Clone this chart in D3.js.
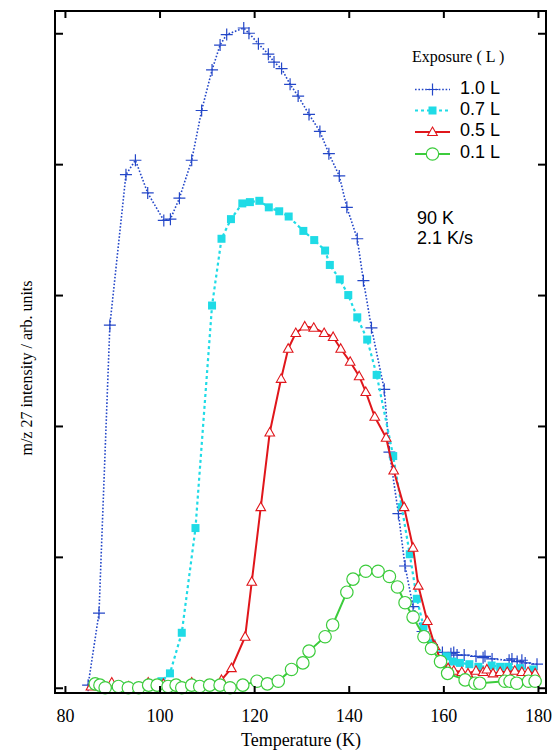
<!DOCTYPE html>
<html><head><meta charset="utf-8">
<script src="https://cdn.jsdelivr.net/npm/d3@7"></script>
<style>html,body{margin:0;padding:0;background:#fff;}svg{display:block;}</style>
</head><body>
<svg id="chart" width="553" height="753"></svg>
<script>
// ---- data ----
const xTicks = [80, 100, 120, 140, 160, 180];
const yTicks = [0, 1, 2, 3, 4, 5];
const seriesNames = ["1.0 L", "0.7 L", "0.5 L", "0.1 L"];

const tempA = [84.9,87.2,89.5,92.9,94.9,97.5,100.9,102.3,104.2,106.8,108.9,111.1,112.8,114.2,117.8,118.9,120.9,123.0,124.2,125.8,127.6,129.3,131.6,133.9,135.8,138.0,139.6,141.8,143.1,144.8,147.5,148.6,150.5,151.9,153.6,155.6,157.6,159.8,161.6,162.2,162.9,164.4,166.9,168.4,168.8,170.3,173.9,174.5,175.6,176.6,177.3,179.8];
const valA  = [0.02,0.57,2.77,3.92,4.03,3.78,3.57,3.58,3.74,4.03,4.41,4.72,4.91,4.99,5.04,5.00,4.92,4.84,4.78,4.73,4.61,4.52,4.38,4.25,4.08,3.91,3.67,3.43,3.11,2.75,2.28,1.80,1.33,0.93,0.62,0.43,0.33,0.27,0.26,0.27,0.25,0.25,0.24,0.23,0.24,0.22,0.21,0.22,0.20,0.21,0.19,0.18];

const tempB = [86.0,88.0,90.5,93.0,95.5,98.0,100.4,102.2,104.7,107.6,111.1,113.1,115.1,117.5,119.1,121.1,123.1,125.3,127.3,130.4,132.7,135.0,136.0,138.1,139.9,141.8,143.9,145.9,149.4,151.2,152.9,154.4,155.8,157.5,160.7,162.0,163.5,165.5,167.4,170.2,172.0,173.7,176.2,179.0];
const valB  = [0.02,0.01,0.02,0.01,0.01,0.02,0.05,0.11,0.42,1.22,2.92,3.43,3.58,3.70,3.71,3.72,3.67,3.64,3.60,3.49,3.42,3.34,3.23,3.12,3.00,2.83,2.66,2.39,1.77,1.38,1.02,0.68,0.47,0.34,0.24,0.20,0.19,0.18,0.16,0.17,0.16,0.16,0.15,0.14];

const tempC = [85.5,89.9,93.5,97.6,100.8,103.5,106.8,109.9,113.1,115.2,118.1,119.5,121.4,123.3,125.7,127.2,128.8,130.7,132.6,134.8,136.7,138.3,140.3,142.2,143.6,145.5,147.9,149.5,151.7,153.6,154.7,156.6,158.2,159.6,161.0,162.2,163.9,165.2,166.9,168.4,169.2,170.5,172.0,173.5,175.1,176.6,177.9,179.4];
const valC  = [0.01,0.04,0.01,0.04,0.03,0.01,0.04,0.02,0.06,0.15,0.39,0.81,1.38,1.95,2.36,2.59,2.71,2.76,2.75,2.71,2.68,2.59,2.49,2.38,2.26,2.07,1.91,1.66,1.38,1.07,0.78,0.51,0.32,0.20,0.15,0.13,0.12,0.11,0.13,0.12,0.14,0.11,0.12,0.12,0.13,0.12,0.12,0.11];

const tempD = [86.4,87.4,88.5,91.3,93.4,95.6,97.7,99.5,101.8,103.5,104.7,106.8,108.5,110.6,112.8,114.9,117.6,120.6,122.8,125.1,127.9,130.3,131.6,135.0,136.6,139.6,140.9,143.6,146.2,148.6,150.3,151.9,153.6,155.9,157.5,159.4,160.9,164.6,166.7,167.7,173.0,174.1,175.5,178.0,179.4];
const valD  = [0.03,0.02,0.00,0.01,0.00,0.00,0.02,0.02,0.01,0.02,0.00,0.02,0.01,0.02,0.02,0.00,0.02,0.05,0.03,0.05,0.14,0.19,0.28,0.39,0.48,0.73,0.83,0.89,0.89,0.85,0.77,0.65,0.54,0.39,0.30,0.20,0.11,0.06,0.035,0.035,0.05,0.05,0.035,0.05,0.05];

const legendTitle = "Exposure ( L )";
const noteLines = ["90 K", "2.1 K/s"];
const xTitle = "Temperature (K)";
const yTitle = "m/z 27 intensity / arb. units";

// ---- drawing ----
const svg = d3.select("#chart");
const L = 55, R = 546, T = 11, B = 693;
const x = d3.scaleLinear().domain([77.9, 181.7]).range([L, R]);
const y = d3.scaleLinear().domain([-0.04, 5.17]).range([B, T]);

const serif = "'Liberation Serif','Times New Roman',serif";
const sans = "'Liberation Sans',Arial,sans-serif";

const styles = [
  {color:"#2447c8", dash:"1.6,1.8", width:1.6, marker:"plus"},
  {color:"#1fdbe6", dash:"3,3", width:2.2, marker:"square"},
  {color:"#e0161b", dash:null, width:2, marker:"triangle"},
  {color:"#3ccc3c", dash:null, width:2, marker:"circle"}
];
const data = [
  tempA.map((t,i)=>({t, v:valA[i]})),
  tempB.map((t,i)=>({t, v:valB[i]})),
  tempC.map((t,i)=>({t, v:valC[i]})),
  tempD.map((t,i)=>({t, v:valD[i]}))
];

function drawMarker(g, kind, color, cx, cy) {
  if (kind === "plus") {
    g.append("path").attr("d", `M${cx-6},${cy}H${cx+6}M${cx},${cy-6}V${cy+6}`)
      .attr("stroke", color).attr("stroke-width", 1.2).attr("fill", "none");
  } else if (kind === "square") {
    g.append("rect").attr("x", cx-4).attr("y", cy-4).attr("width", 8).attr("height", 8)
      .attr("fill", color);
  } else if (kind === "triangle") {
    g.append("path").attr("d", `M${cx},${cy-5}L${cx+4.8},${cy+3.5}L${cx-4.8},${cy+3.5}Z`)
      .attr("fill", "#fff").attr("stroke", color).attr("stroke-width", 1.1);
  } else {
    g.append("circle").attr("cx", cx).attr("cy", cy).attr("r", 6.2)
      .attr("fill", "#fff").attr("stroke", color).attr("stroke-width", 1.2);
  }
}

const line = d3.line().x(d => x(d.t)).y(d => y(d.v));
const plot = svg.append("g");
data.forEach((ds, i) => {
  const s = styles[i];
  const g = plot.append("g");
  g.append("path").datum(ds).attr("d", line).attr("fill", "none")
    .attr("stroke", s.color).attr("stroke-width", s.width)
    .attr("stroke-dasharray", s.dash);
  ds.forEach(d => drawMarker(g, s.marker, s.color, x(d.t), y(d.v)));
});

// axes (inward ticks on all four sides)
const axG = svg.append("g");
axG.append("g").attr("transform", `translate(0,${B})`)
  .call(d3.axisBottom(x).tickValues(xTicks).tickSize(-7).tickPadding(16).tickFormat(d3.format("d")))
  .call(g => g.select(".domain").remove());
axG.append("g").attr("transform", `translate(0,${T})`)
  .call(d3.axisTop(x).tickValues(xTicks).tickSize(-7).tickFormat(""))
  .call(g => g.select(".domain").remove());
axG.append("g").attr("transform", `translate(${L},0)`)
  .call(d3.axisLeft(y).tickValues(yTicks).tickSize(-8).tickFormat(""))
  .call(g => g.select(".domain").remove());
axG.append("g").attr("transform", `translate(${R},0)`)
  .call(d3.axisRight(y).tickValues(yTicks).tickSize(-8).tickFormat(""))
  .call(g => g.select(".domain").remove());
axG.selectAll(".tick line").attr("stroke", "#000").attr("stroke-width", 2);
axG.selectAll(".tick text").attr("font-family", serif).attr("font-size", 18).attr("fill", "#000");

svg.append("rect").attr("x", L).attr("y", T).attr("width", R-L).attr("height", B-T)
  .attr("fill", "none").attr("stroke", "#000").attr("stroke-width", 2);

// axis titles
svg.append("text").attr("x", 301).attr("y", 746).attr("text-anchor", "middle")
  .attr("font-family", serif).attr("font-size", 18).text(xTitle);
svg.append("text").attr("transform", "translate(32,368) rotate(-90)").attr("text-anchor", "middle")
  .attr("font-family", serif).attr("font-size", 16).text(yTitle);

// legend
svg.append("text").attr("x", 412).attr("y", 62).attr("font-family", serif)
  .attr("font-size", 16).text(legendTitle);
const legRows = [89.5, 110.5, 132, 154];
const legBase = [94, 115, 136, 158];
seriesNames.forEach((name, i) => {
  const s = styles[i];
  const g = svg.append("g");
  g.append("line").attr("x1", 415).attr("x2", 450).attr("y1", legRows[i]).attr("y2", legRows[i])
    .attr("stroke", s.color).attr("stroke-width", s.width).attr("stroke-dasharray", s.dash);
  drawMarker(g, s.marker, s.color, 432.5, legRows[i]);
  g.append("text").attr("x", 460).attr("y", legBase[i]).attr("font-family", sans)
    .attr("font-size", 18).text(name);
});

// annotation
noteLines.forEach((t, i) => {
  svg.append("text").attr("x", 417).attr("y", 224 + i*20).attr("font-family", sans)
    .attr("font-size", 18).text(t);
});
</script>
</body></html>
